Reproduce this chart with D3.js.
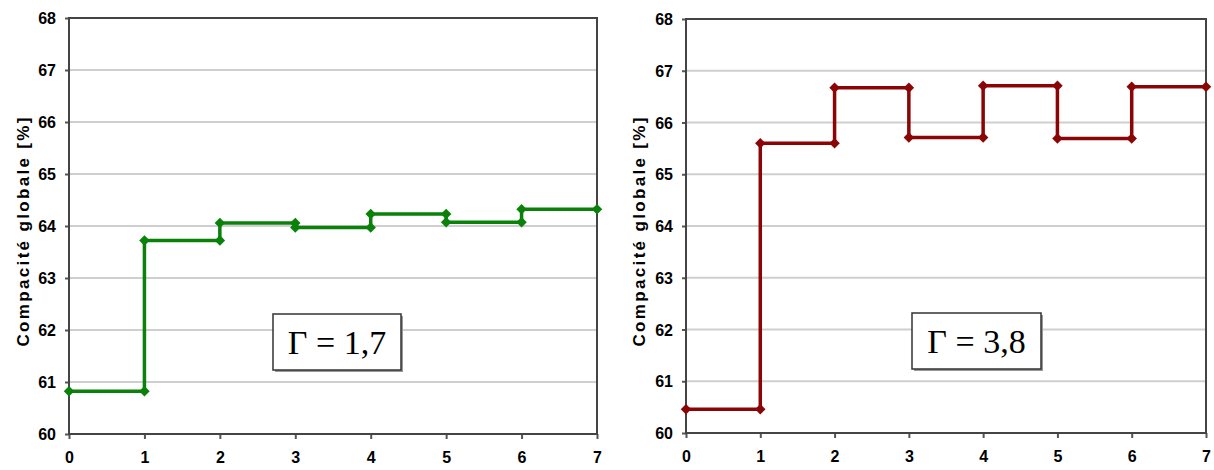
<!DOCTYPE html>
<html><head><meta charset="utf-8">
<script src="https://cdn.jsdelivr.net/npm/d3@7"></script>
<style>html,body{margin:0;padding:0;background:#fff;}svg{display:block;}</style>
</head><body>
<svg id="c" width="1214" height="470"></svg>
<script>
// Data
const steps = [0, 1, 2, 3, 4, 5, 6, 7];
const xTicks = [0, 1, 2, 3, 4, 5, 6, 7];
const yTicks = [60, 61, 62, 63, 64, 65, 66, 67, 68];
// value of each segment [i, i+1]
const valuesG17 = [60.82, 63.72, 64.06, 63.97, 64.23, 64.07, 64.32];
const valuesG38 = [60.46, 65.60, 66.67, 65.71, 66.71, 65.69, 66.69];
const yTitle = "Compacité globale [%]";
const labelG17 = "Γ = 1,7";
const labelG38 = "Γ = 3,8";

const panels = [
  {vals: valuesG17, color: "#0a820a", label: labelG17,
   plot: {l: 69, r: 597, t: 18, b: 434}, titleX: 23, tickRight: 56,
   box: {x: 273, y: 314, w: 128, h: 56}},
  {vals: valuesG38, color: "#8a0606", label: labelG38,
   plot: {l: 686, r: 1206, t: 19, b: 433}, titleX: 639, tickRight: 673,
   box: {x: 912, y: 313, w: 129, h: 56}}
];

const svg = d3.select("#c");
const tickFont = "'Liberation Sans',Arial,sans-serif";

panels.forEach(p => {
  const g = svg.append("g");
  const x = d3.scaleLinear().domain([0, 7]).range([p.plot.l, p.plot.r]);
  const y = d3.scaleLinear().domain([60, 68]).range([p.plot.b, p.plot.t]);

  // gridlines
  g.append("g").selectAll("line").data(yTicks.slice(1, -1)).join("line")
    .attr("x1", p.plot.l).attr("x2", p.plot.r)
    .attr("y1", d => y(d)).attr("y2", d => y(d))
    .attr("stroke", "#cfcfcf").attr("stroke-width", 2);

  // axes with ticks
  const ya = g.append("g").attr("transform", `translate(${p.plot.l},0)`)
    .call(d3.axisLeft(y).tickValues(yTicks).tickSize(4).tickFormat(d3.format("d")));
  const xa = g.append("g").attr("transform", `translate(0,${p.plot.b})`)
    .call(d3.axisBottom(x).tickValues(xTicks).tickSize(5).tickFormat(d3.format("d")));
  [ya, xa].forEach(a => {
    a.select(".domain").remove();
    a.selectAll("line").attr("stroke", "#555").attr("stroke-width", 2);
    a.selectAll("text").attr("font-family", tickFont).attr("font-weight", "bold")
      .attr("font-size", 16).attr("fill", "#000");
  });
  ya.selectAll("text").attr("x", p.tickRight - p.plot.l).attr("dy", "0.35em");
  xa.selectAll("text").attr("y", 18).attr("dy", "0.71em");

  // plot frame
  g.append("rect").attr("x", p.plot.l).attr("y", p.plot.t)
    .attr("width", p.plot.r - p.plot.l).attr("height", p.plot.b - p.plot.t)
    .attr("fill", "none").attr("stroke", "#444").attr("stroke-width", 2);

  // y title
  g.append("text")
    .attr("transform", `translate(${p.titleX},232) rotate(-90)`)
    .attr("text-anchor", "middle").attr("dy", "0.35em")
    .attr("font-family", "'Liberation Sans',Arial,sans-serif").attr("font-weight", "bold")
    .attr("font-size", 17).attr("textLength", 229).attr("lengthAdjust", "spacing")
    .text(yTitle);

  // step points
  const pts = [];
  p.vals.forEach((v, i) => { pts.push([steps[i], v]); pts.push([steps[i + 1], v]); });
  const line = d3.line().x(d => x(d[0])).y(d => y(d[1]));
  g.append("path").datum(pts).attr("d", line).attr("fill", "none")
    .attr("stroke", p.color).attr("stroke-width", 3.5).attr("stroke-linejoin", "miter");
  g.append("g").selectAll("path").data(pts).join("path")
    .attr("d", d3.symbol(d3.symbolDiamond2, 70)())
    .attr("transform", d => `translate(${x(d[0])},${y(d[1])})`)
    .attr("fill", p.color);

  // label box
  const b = p.box;
  g.append("rect").attr("x", b.x + 2).attr("y", b.y + 2).attr("width", b.w).attr("height", b.h)
    .attr("fill", "#999");
  g.append("rect").attr("x", b.x).attr("y", b.y).attr("width", b.w).attr("height", b.h)
    .attr("fill", "#fff").attr("stroke", "#333").attr("stroke-width", 1.5);
  g.append("text").attr("x", b.x + b.w / 2).attr("y", b.y + b.h / 2 + 12)
    .attr("text-anchor", "middle")
    .attr("font-family", "'Liberation Serif','Times New Roman',serif")
    .attr("font-size", 34).attr("fill", "#000")
    .text(p.label);
});
</script>
</body></html>
